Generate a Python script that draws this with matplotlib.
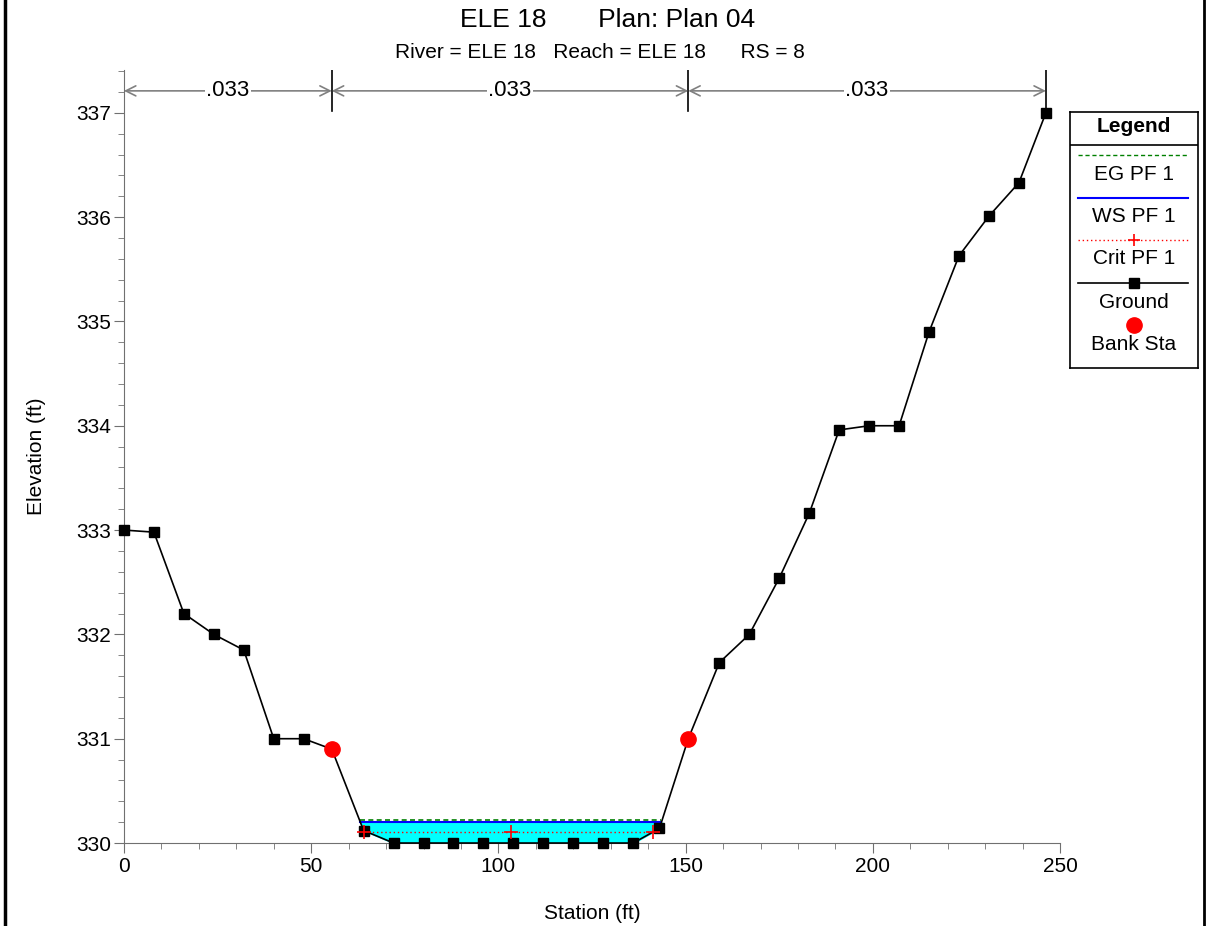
import numpy as np
import matplotlib.pyplot as plt
from matplotlib.lines import Line2D

plt.rcParams['font.family'] = ['Liberation Sans', 'DejaVu Sans']

# --- cross section data ---
station = [0, 8, 16, 24, 32, 40, 48, 55.5, 64, 72, 80, 88, 96, 104, 112, 120,
           128, 136, 143, 150.7, 159, 167, 175, 183, 191, 199, 207, 215, 223,
           231, 239, 246.2]
elev = [333.0, 332.98, 332.2, 332.0, 331.85, 331.0, 331.0, 330.9, 330.12, 330.0,
        330.0, 330.0, 330.0, 330.0, 330.0, 330.0, 330.0, 330.0, 330.14, 331.0,
        331.73, 332.0, 332.54, 333.16, 333.96, 334.0, 334.0, 334.9, 335.63,
        336.01, 336.33, 337.0]
bank_sta = [55.5, 150.7]
bank_elev = [330.9, 331.0]
ws_elev = 330.20
eg_elev = 330.22
crit_elev = 330.11
crit_sta = [64.1, 103.3, 141.3]
n_values = ['.033', '.033', '.033']
n_breaks = [0, 55.5, 150.7, 246.2]

station = np.array(station)
elev = np.array(elev)

fig = plt.figure(figsize=(12.08, 9.26), dpi=100)
ax = fig.add_axes([0.1026, 0.0896, 0.775, 0.8348])

# water fill and water surface lines
wet = elev <= ws_elev
ax.fill_between(station, elev, ws_elev, where=wet, interpolate=True,
                color='#00ffff', zorder=1)
# water surface extents (interpolated edges)
i0 = np.argmax(wet)
i1 = len(wet) - 1 - np.argmax(wet[::-1])
x_left = np.interp(ws_elev, [elev[i0], elev[i0 - 1]], [station[i0], station[i0 - 1]])
x_right = np.interp(ws_elev, [elev[i1], elev[i1 + 1]], [station[i1], station[i1 + 1]])
ax.plot([x_left, x_right], [ws_elev, ws_elev], color='#0000ff', lw=1.5, zorder=3)
ax.plot([x_left, x_right], [eg_elev, eg_elev], color='#008000', lw=1.2,
        ls=(0, (3, 2)), zorder=3)
ax.plot([crit_sta[0], crit_sta[-1]], [crit_elev, crit_elev], color='red', lw=1,
        ls=(0, (1, 2)), zorder=3)
ax.plot(crit_sta, [crit_elev] * len(crit_sta), ls='none', marker='+', color='red',
        ms=10, mew=1.2, zorder=5)

# ground
ax.plot(station, elev, color='black', lw=1.2, marker='s', ms=7, zorder=4,
        clip_on=False)
ax.plot(bank_sta, bank_elev, ls='none', marker='o', color='red', ms=11, zorder=6)

# n-value annotations
y_arrow = 337.21
for xb in n_breaks:
    ax.plot([xb, xb], [337.02, 337.41], color='black', lw=1.2, zorder=2)
for k, nv in enumerate(n_values):
    a, b = n_breaks[k], n_breaks[k + 1]
    ax.annotate('', xy=(a, y_arrow), xytext=(b, y_arrow),
                arrowprops=dict(arrowstyle='<->', color='#808080', lw=1.2,
                                shrinkA=0, shrinkB=0, mutation_scale=18))
    ax.text((a + b) / 2, y_arrow, nv, ha='center', va='center', fontsize=16,
            bbox=dict(facecolor='white', edgecolor='none', pad=1))

ax.set_xlim(0, 250)
ax.set_ylim(330, 337.41)
ax.set_xticks([0, 50, 100, 150, 200, 250])
ax.set_xticks(np.arange(0, 251, 10), minor=True)
ax.set_yticks(range(330, 338))
ax.set_yticks(np.arange(330, 337.41, 0.2), minor=True)
for s in ['top', 'right']:
    ax.spines[s].set_visible(False)
ax.spines['left'].set_color('#707070')
ax.spines['bottom'].set_color('#707070')
ax.tick_params(which='major', length=7, labelsize=15, color='#707070', direction='out')
ax.tick_params(which='minor', length=4, color='#707070', direction='out')
ax.tick_params(axis='x', pad=3)
ax.tick_params(axis='y', pad=2)
ax.set_xlabel('Station (ft)', fontsize=15, labelpad=20)
ax.set_ylabel('Elevation (ft)', fontsize=15, labelpad=22)

fig.text(0.503, 0.978, 'ELE 18       Plan: Plan 04', ha='center', va='center', fontsize=19)
fig.text(0.497, 0.943, 'River = ELE 18   Reach = ELE 18      RS = 8', ha='center',
         va='center', fontsize=15)

# legend box
lg = fig.add_axes([1070 / 1208, 1 - 368 / 926, 128 / 1208, 256 / 926])
lg.set_xlim(0, 128)
lg.set_ylim(368, 112)
lg.set_xticks([])
lg.set_yticks([])
for s in lg.spines.values():
    s.set_linewidth(1.2)
lg.axhline(145, color='black', lw=1.2)
lg.text(64, 126, 'Legend', ha='center', va='center', fontsize=15, fontweight='bold')
lg.plot([8, 118], [155, 155], color='#008000', lw=1, ls=(0, (3, 2)))
lg.text(64, 174, 'EG PF 1', ha='center', va='center', fontsize=15)
lg.plot([8, 118], [198, 198], color='#0000ff', lw=1.5)
lg.text(64, 216, 'WS PF 1', ha='center', va='center', fontsize=15)
lg.plot([8, 118], [240, 240], color='red', lw=1, ls=(0, (1, 2)))
lg.plot([64], [240], marker='+', color='red', ms=9, mew=1.2)
lg.text(64, 258, 'Crit PF 1', ha='center', va='center', fontsize=15)
lg.plot([8, 118], [283, 283], color='black', lw=1.2)
lg.plot([64], [283], marker='s', color='black', ms=7)
lg.text(64, 302, 'Ground', ha='center', va='center', fontsize=15)
lg.plot([64], [325], marker='o', color='red', ms=11)
lg.text(64, 344, 'Bank Sta', ha='center', va='center', fontsize=15)

# side frame lines of the figure
fig.add_artist(Line2D([0.004, 0.004], [0, 1], color='black', lw=2.5))
fig.add_artist(Line2D([0.997, 0.997], [0, 1], color='black', lw=2))

fig.savefig('out.png', dpi=100)
